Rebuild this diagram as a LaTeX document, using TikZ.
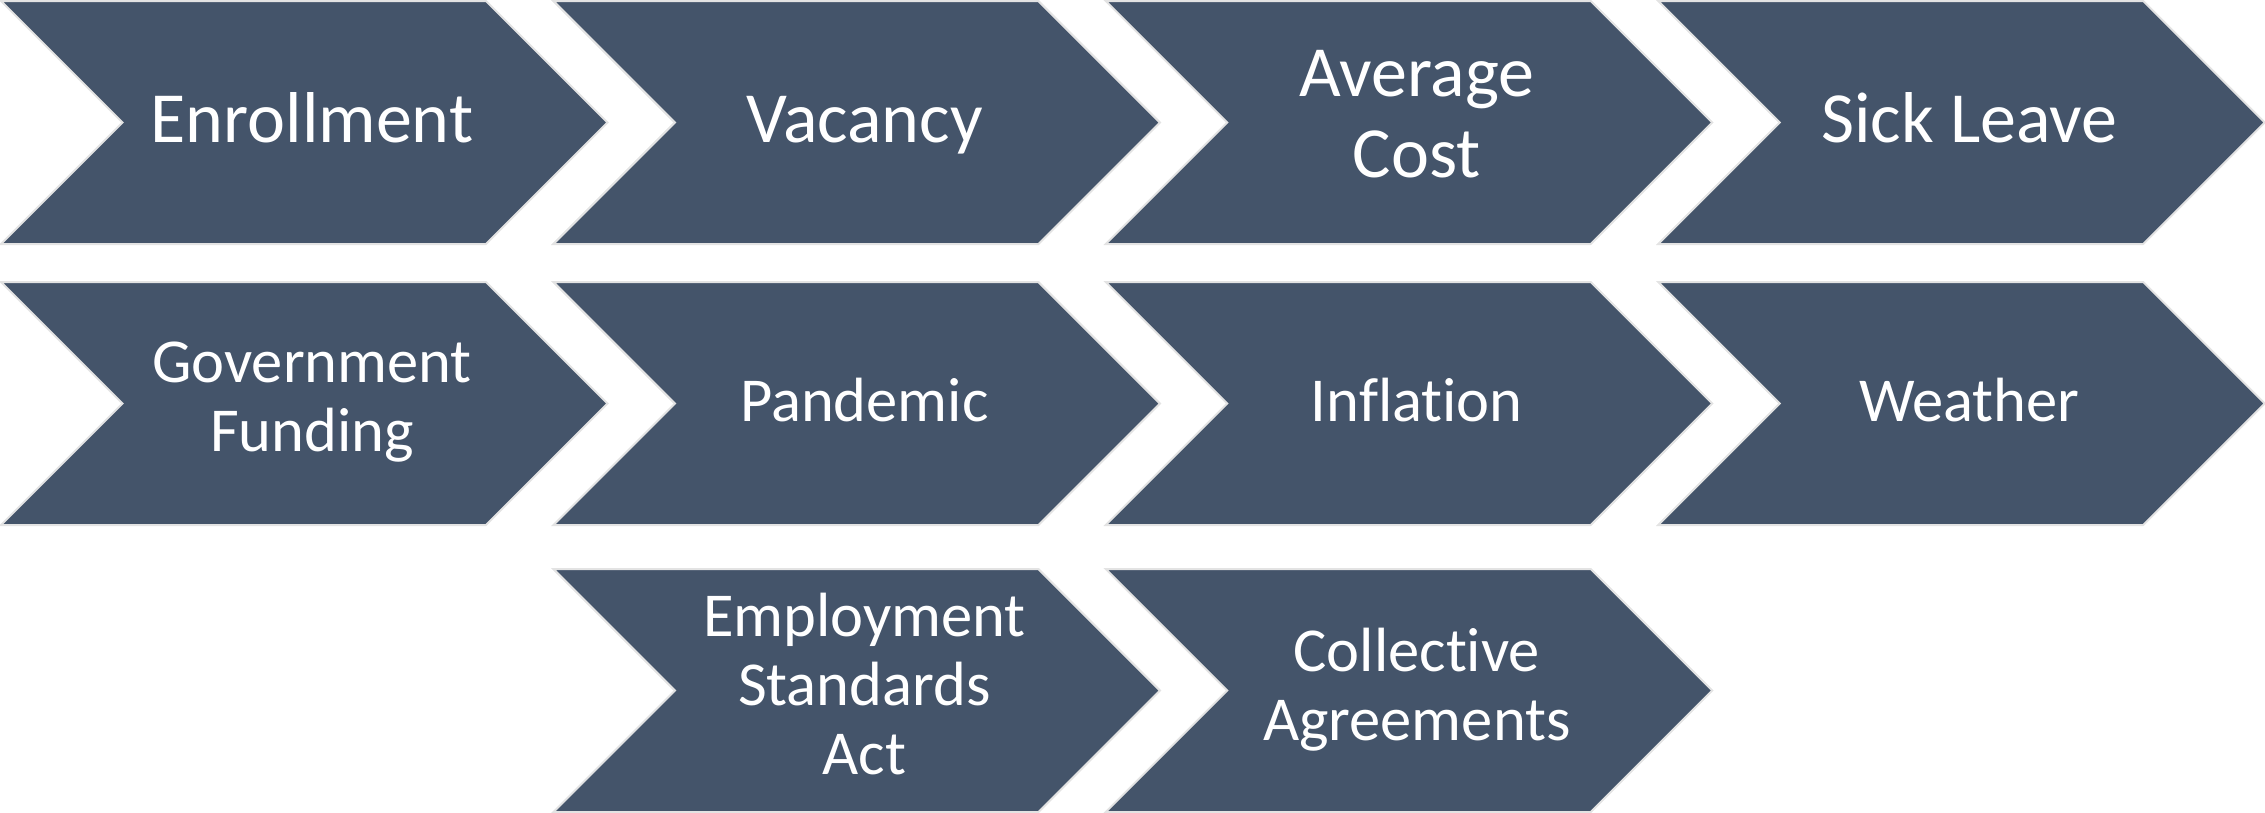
\documentclass[tikz,border=0pt]{standalone}
\usepackage{fontspec}
\setmainfont{Carlito}[Ligatures=CommonOff]
\usetikzlibrary{calc}
\definecolor{slate}{HTML}{44546A}
\definecolor{rim}{HTML}{E3E3E3}
\tikzset{
  chevron/.style={fill=slate,draw=rim,line width=2pt,line join=miter},
  biglabel/.style={text=white,align=center,font=\fontsize{72}{81}\selectfont,
    execute at begin node=\strut,execute at end node=\strut},
  smalllabel/.style={biglabel,font=\fontsize{62.5}{69}\selectfont}}
\begin{document}
\begin{tikzpicture}[x=1pt,y=-1pt]
\useasboundingbox (0,0) rectangle (2265,812);

% rows of chevrons: row/column/label/style
\foreach \r/\c/\txt/\sty in {
  0/0/Enrollment/biglabel,0/1/Vacancy/biglabel,0/2/{Average\\Cost}/biglabel,0/3/Sick Leave/biglabel,
  1/0/{Government\\Funding}/smalllabel,1/1/Pandemic/smalllabel,1/2/Inflation/smalllabel,1/3/Weather/smalllabel,
  2/1/{Employment\\Standards\\Act}/smalllabel,2/2/{Collective\\Agreements}/smalllabel}{
  \pgfmathsetmacro\L{1+552.4*\c}
  \pgfmathsetmacro\T{{1,282,569}[\r]}
  \draw[chevron] (\L,\T) -- ++(485,0) -- ++(121.5,121.5) -- ++(-121.5,121.5)
    -- ++(-485,0) -- ++(121.5,-121.5) -- cycle;
  \node[\sty] (chev\r\c) at (\L+311,\T+125.5) {\txt};
}
\end{tikzpicture}
\end{document}
